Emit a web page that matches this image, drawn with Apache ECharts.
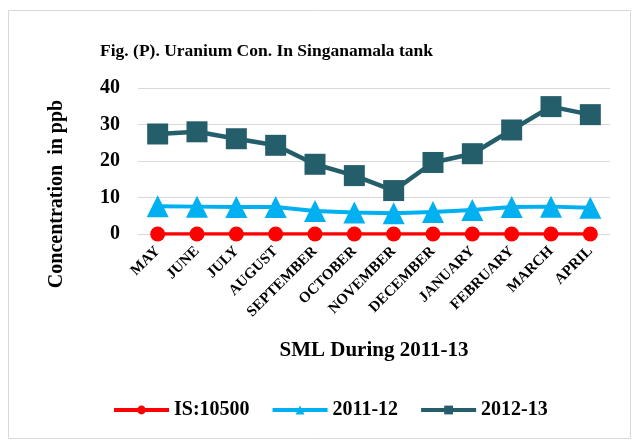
<!DOCTYPE html>
<html><head><meta charset="utf-8">
<script src="https://cdn.jsdelivr.net/npm/echarts@6/dist/echarts.min.js"></script>
<style>html,body{margin:0;padding:0;background:#fff}#c{width:633px;height:441px}</style>
</head><body><div id="c"></div>
<script>
const categories = ['MAY','JUNE','JULY','AUGUST','SEPTEMBER','OCTOBER','NOVEMBER','DECEMBER','JANUARY','FEBRUARY','MARCH','APRIL'];
const isStandard = [0,0,0,0,0,0,0,0,0,0,0,0];
const y2011_12 = [7.6,7.5,7.4,7.4,6.3,5.9,5.7,6.0,6.6,7.4,7.5,7.2];
const y2012_13 = [27.4,28.0,26.1,24.3,19.1,16.0,11.9,19.6,22.0,28.5,34.9,32.7];
const yTicks = [0,10,20,30,40];

const font = '"Liberation Serif","Times New Roman",serif';
const chart = echarts.init(document.getElementById('c'));
chart.setOption({
  animation: false,
  title: {
    text: 'Fig. (P). Uranium Con. In Singanamala tank',
    left: 95, top: 37,
    textStyle: {fontFamily: font, fontWeight: 'bold', fontSize: 17.5, color: '#000'}
  },
  graphic: [
    {type: 'rect', shape: {x: 8.5, y: 10.5, width: 622, height: 428}, style: {fill: 'none', stroke: '#d9d9d9', lineWidth: 1}, silent: true, z: -1},
    {type: 'text', x: 57, y: 194, rotation: Math.PI / 2,
     style: {text: 'Concentration  in ppb', fontFamily: font, fontWeight: 'bold', fontSize: 20, fill: '#000', align: 'center', verticalAlign: 'middle'}}
  ],
  grid: {left: 138, right: 23, top: 88, bottom: 207},
  legend: {
    bottom: 16, left: 107, itemWidth: 55, itemHeight: 11, itemGap: 21,
    lineStyle: {width: 4},
    textStyle: {fontFamily: font, fontWeight: 'bold', fontSize: 20, color: '#000'},
    data: ['IS:10500','2011-12','2012-13']
  },
  xAxis: {
    type: 'category', data: categories, boundaryGap: true,
    name: 'SML During 2011-13', nameLocation: 'middle', nameGap: 106,
    nameTextStyle: {fontFamily: font, fontWeight: 'bold', fontSize: 21, color: '#000'},
    axisLine: {show: false}, axisTick: {show: false},
    axisLabel: {rotate: 45, interval: 0, fontFamily: font, fontWeight: 'bold', fontSize: 15, color: '#000', margin: 15}
  },
  yAxis: {
    type: 'value', min: 0, max: 40, interval: 10,
    axisLine: {show: false}, axisTick: {show: false},
    axisLabel: {fontFamily: font, fontWeight: 'bold', fontSize: 20, color: '#000', margin: 18,
      formatter: v => yTicks.includes(v) ? String(v) : ''},
    splitLine: {lineStyle: {color: '#d9d9d9', width: 1}}
  },
  series: [
    {name: 'IS:10500', type: 'line', data: isStandard, symbol: 'circle', symbolSize: 15,
     itemStyle: {color: '#ff0000'}, lineStyle: {width: 3.5, color: '#ff0000'}, z: 3},
    {name: '2011-12', type: 'line', data: y2011_12, symbol: 'triangle', symbolSize: 22,
     itemStyle: {color: '#00b0f0'}, lineStyle: {width: 4, color: '#00b0f0'}, z: 2},
    {name: '2012-13', type: 'line', data: y2012_13, symbol: 'rect', symbolSize: 21,
     itemStyle: {color: '#255e6b'}, lineStyle: {width: 4.5, color: '#255e6b'}, z: 1}
  ]
});
</script></body></html>
